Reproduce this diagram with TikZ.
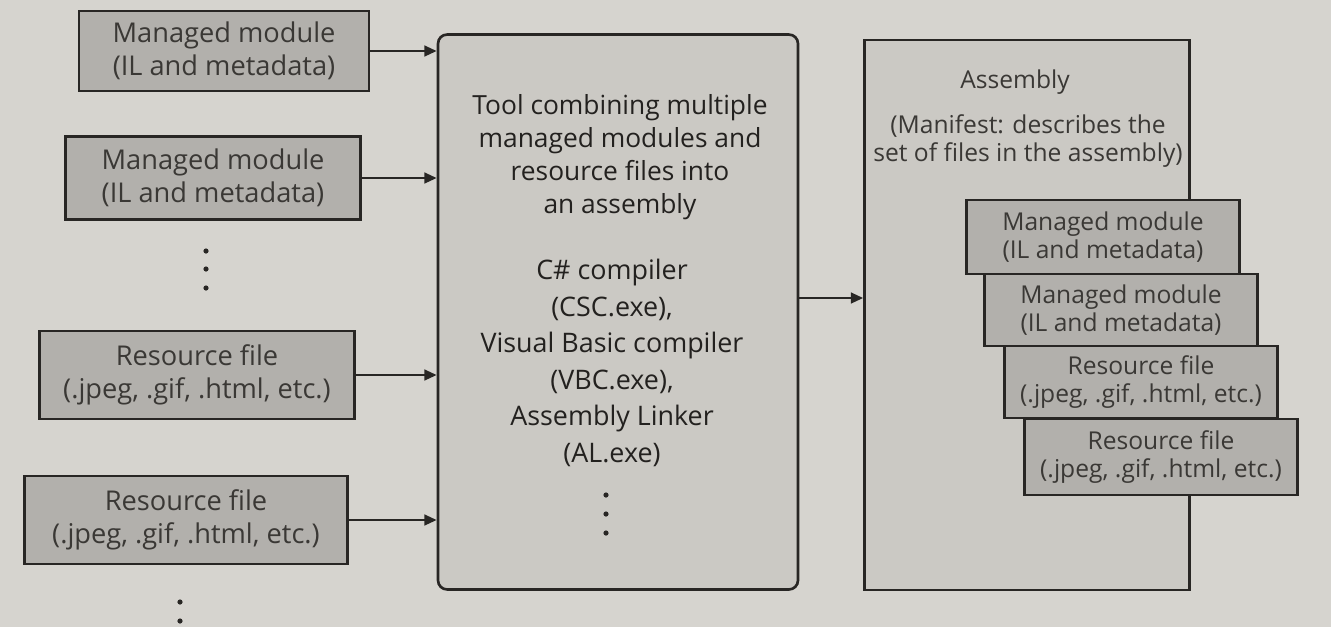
\documentclass[tikz,border=0pt]{standalone}
\usepackage{fontspec}
\setmainfont{Open Sans}
\usetikzlibrary{arrows.meta}
\definecolor{page}{RGB}{214,212,207}
\definecolor{boxfill}{RGB}{178,176,172}
\definecolor{toolfill}{RGB}{203,201,196}
\definecolor{ink}{RGB}{40,38,36}
\definecolor{txt}{RGB}{58,56,53}
\definecolor{darktxt}{RGB}{35,33,31}
\begin{document}
\begin{tikzpicture}[x=0.02cm,y=-0.02cm,
  filebox/.style={draw=ink, line width=1.5pt, fill=boxfill, text=txt, align=center,
    inner sep=0pt, font=\fontsize{15.5}{18.5}\selectfont},
  stackbox/.style={filebox, minimum width=5.45cm, font=\fontsize{14}{15.5}\selectfont},
  bigbox/.style={draw=ink, line width=1.5pt, fill=toolfill, inner sep=0pt},
  label/.style={text=darktxt, align=center, inner sep=0pt},
  conn/.style={draw=ink, line width=1.5pt, -{Triangle[length=7pt,width=6pt]}},
  dot/.style={fill=ink}
]
\useasboundingbox (0,0) rectangle (1331,627);
\fill[page] (0,0) rectangle (1331,627);

% left input boxes
\node[filebox, minimum width=5.8cm, minimum height=1.6cm] (mm1) at (224,51)
  {Managed module\\(IL and metadata)};
\node[filebox, minimum width=5.9cm, minimum height=1.66cm] (mm2) at (213,178)
  {Managed module\\(IL and metadata)};
\node[filebox, minimum width=6.3cm, minimum height=1.76cm] (rf1) at (197,375)
  {Resource file\\(.jpeg, .gif, .html, etc.)};
\node[filebox, minimum width=6.45cm, minimum height=1.76cm] (rf2) at (186,520)
  {Resource file\\(.jpeg, .gif, .html, etc.)};

% dots on the left
\foreach \yy in {251,269,288} \fill[dot] (206,\yy) circle (2.6);
\foreach \yy in {602,621} \fill[dot] (180,\yy) circle (2.6);

% central tool box
\node[bigbox, rounded corners=0.18cm, minimum width=7.2cm, minimum height=11.1cm] (tool) at (618,312) {};
\node[label, font=\fontsize{15}{18.7}\selectfont] (tooltxt) at (620,157)
  {Tool combining multiple\\managed modules and\\resource files into\\an assembly};
\node[label, font=\fontsize{15.3}{20.8}\selectfont] (compilers) at (612,363)
  {C\# compiler\\(CSC.exe),\\Visual Basic compiler\\(VBC.exe),\\Assembly Linker\\(AL.exe)};
\foreach \yy in {495,514,533} \fill[dot] (606,\yy) circle (2.6);

% arrows into the tool
\draw[conn] (mm1.east) -- (mm1.east -| tool.west);
\draw[conn] (mm2.east) -- (mm2.east -| tool.west);
\draw[conn] (rf1.east) -- (rf1.east -| tool.west);
\draw[conn] (rf2.east) -- (rf2.east -| tool.west);

% assembly box
\node[bigbox, minimum width=6.5cm, minimum height=11cm] (asm) at (1027,315) {};
\node[label, text=txt, font=\fontsize{14}{16}\selectfont] (asmtitle) at (1015,82) {Assembly};
\node[label, text=txt, font=\fontsize{14}{15.5}\selectfont] (manifest) at (1028,141)
  {(Manifest: describes the\\set of files in the assembly)};

\coordinate (out) at (800,298);
\draw[conn] (tool.east |- out) -- (asm.west |- out);

% stacked contents
\node[stackbox, minimum height=1.48cm] (s1) at (1103,237) {Managed module\\(IL and metadata)};
\node[stackbox, minimum height=1.44cm] (s2) at (1121,310) {Managed module\\(IL and metadata)};
\node[stackbox, minimum height=1.44cm] (s3) at (1141,382) {Resource file\\(.jpeg, .gif, .html, etc.)};
\node[stackbox, minimum height=1.52cm] (s4) at (1161,457) {Resource file\\(.jpeg, .gif, .html, etc.)};
\end{tikzpicture}
\end{document}
